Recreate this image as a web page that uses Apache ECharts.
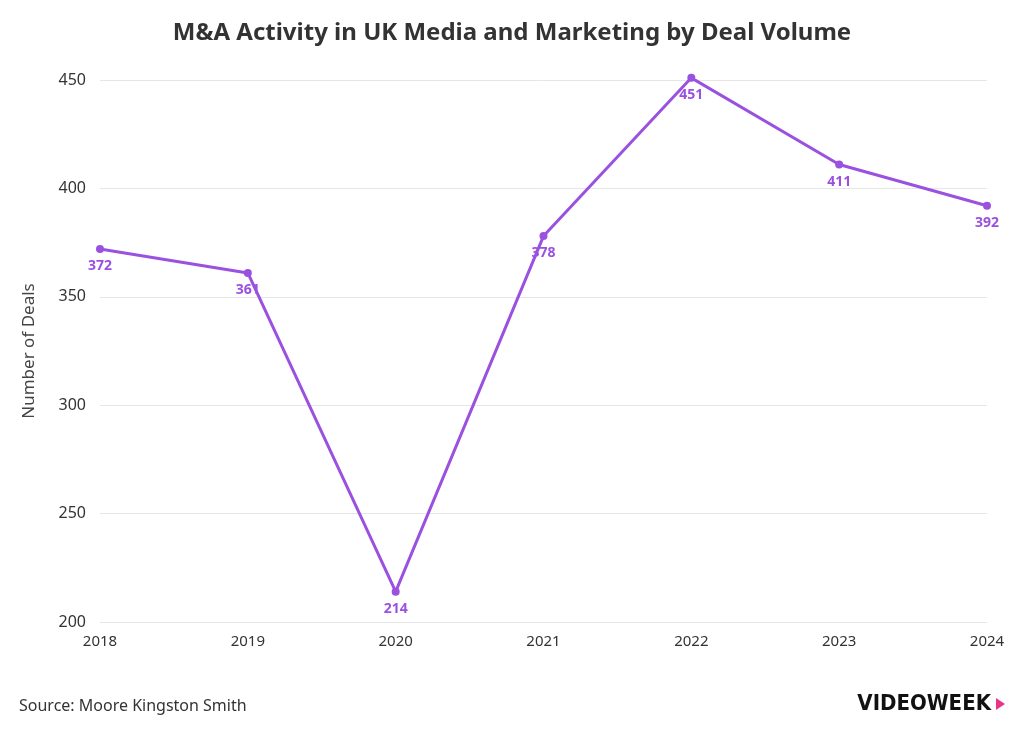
<!DOCTYPE html>
<html>
<head>
<meta charset="utf-8">
<script src="https://cdn.jsdelivr.net/npm/echarts@6/dist/echarts.min.js"></script>
<style>html,body{margin:0;padding:0;background:#fff}#main{width:1024px;height:742px}</style>
</head>
<body>
<div id="main"></div>
<script>
// deal volume by year
const years = ['2018', '2019', '2020', '2021', '2022', '2023', '2024']
const deals = [372, 361, 214, 378, 451, 411, 392]

const chart = echarts.init(document.getElementById('main'))
chart.setOption({
  backgroundColor: '#fff',
  textStyle: { fontFamily: 'Source Sans Pro, Noto Sans, sans-serif' },
  title: [
    {
      text: 'M&A Activity in UK Media and Marketing by Deal Volume',
      left: 'center',
      top: 16,
      textStyle: { fontSize: 24, fontWeight: 'bold', color: '#333' }
    },
    {
      text: 'Source: Moore Kingston Smith',
      left: 14,
      top: 693,
      textStyle: { fontSize: 16, fontWeight: 'normal', color: '#333' }
    },
    {
      text: 'VIDEOWEEK',
      right: 28,
      top: 688,
      textStyle: { fontSize: 22, fontWeight: 900, color: '#111', fontFamily: 'DejaVu Sans Condensed' }
    }
  ],
  graphic: [{
    type: 'polygon',
    shape: { points: [[996, 698], [1005, 704], [996, 710]] },
    style: { fill: '#e8338a' }
  }],
  grid: { left: 100, right: 37, top: 80, bottom: 120 },
  xAxis: {
    type: 'category',
    data: years,
    boundaryGap: false,
    axisLine: { show: false },
    axisTick: { show: false },
    axisLabel: { color: '#333', fontSize: 15, margin: 12 }
  },
  yAxis: {
    type: 'value',
    min: 200,
    max: 450,
    interval: 50,
    name: 'Number of Deals',
    nameLocation: 'middle',
    nameGap: 62,
    nameTextStyle: { fontSize: 17, color: '#444' },
    axisLabel: { color: '#333', fontSize: 16, margin: 14 },
    splitLine: { lineStyle: { color: '#e6e6e6' } }
  },
  series: [{
    type: 'line',
    data: deals,
    clip: false,
    symbol: 'circle',
    symbolSize: 8,
    lineStyle: { color: '#9b51e0', width: 3 },
    itemStyle: { color: '#9b51e0' },
    label: {
      show: true,
      position: 'bottom',
      distance: 6,
      color: '#9b51e0',
      fontWeight: 'bold',
      fontSize: 14
    }
  }]
})
</script>
</body>
</html>
